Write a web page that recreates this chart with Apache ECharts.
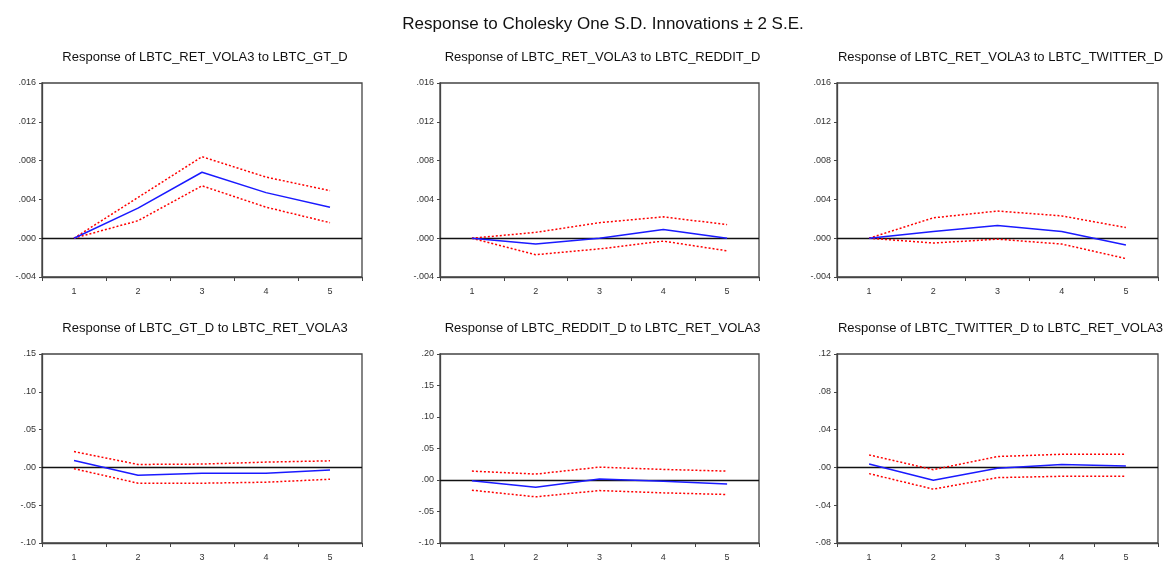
<!DOCTYPE html>
<html><head><meta charset="utf-8">
<script src="https://cdn.jsdelivr.net/npm/echarts@6/dist/echarts.min.js"></script>
<style>html,body{margin:0;padding:0;background:#fff}#c{width:1168px;height:562px}</style>
</head><body><div id="c"></div>
<script>
const categories = ['1','2','3','4','5'];
const mainTitle = 'Response to Cholesky One S.D. Innovations \u00b1 2 S.E.';
const panelTitles = [
  'Response of LBTC_RET_VOLA3 to LBTC_GT_D',
  'Response of LBTC_RET_VOLA3 to LBTC_REDDIT_D',
  'Response of LBTC_RET_VOLA3 to LBTC_TWITTER_D',
  'Response of LBTC_GT_D to LBTC_RET_VOLA3',
  'Response of LBTC_REDDIT_D to LBTC_RET_VOLA3',
  'Response of LBTC_TWITTER_D to LBTC_RET_VOLA3'
];
// responses, upper and lower ±2 S.E. bands
const resp1 = [0.0000, 0.0031, 0.0068, 0.0047, 0.0032];
const upper1 = [0.0000, 0.0042, 0.0084, 0.0063, 0.0049];
const lower1 = [0.0000, 0.0018, 0.0054, 0.0032, 0.0016];
const resp2 = [0.0000, -0.0006, 0.0000, 0.0009, 0.0000];
const upper2 = [0.0000, 0.0006, 0.0016, 0.0022, 0.0014];
const lower2 = [0.0000, -0.0017, -0.0011, -0.0003, -0.0013];
const resp3 = [0.0000, 0.0007, 0.0013, 0.0007, -0.0007];
const upper3 = [0.0000, 0.0021, 0.0028, 0.0023, 0.0011];
const lower3 = [0.0000, -0.0005, -0.0001, -0.0006, -0.0021];
const resp4 = [0.0092, -0.0105, -0.0079, -0.0079, -0.0035];
const upper4 = [0.0209, 0.0039, 0.0044, 0.0070, 0.0087];
const lower4 = [-0.0017, -0.0209, -0.0209, -0.0196, -0.0157];
const resp5 = [-0.0010, -0.0115, 0.0016, -0.0020, -0.0063];
const upper5 = [0.0141, 0.0094, 0.0204, 0.0168, 0.0141];
const lower5 = [-0.0162, -0.0267, -0.0168, -0.0204, -0.0230];
const resp6 = [0.0035, -0.0136, -0.0010, 0.0031, 0.0014];
const upper6 = [0.0132, -0.0024, 0.0115, 0.0139, 0.0139];
const lower6 = [-0.0066, -0.0230, -0.0108, -0.0094, -0.0094];
// y-axis scales: min, max, interval, decimals
const yMin = [-0.004, -0.004, -0.004, -0.10, -0.10, -0.08];
const yMax = [0.016, 0.016, 0.016, 0.15, 0.20, 0.12];
const yInterval = [0.004, 0.004, 0.004, 0.05, 0.05, 0.04];
const yDecimals = [3, 3, 3, 2, 2, 2];

const respData = [resp1, resp2, resp3, resp4, resp5, resp6];
const upperData = [upper1, upper2, upper3, upper4, upper5, upper6];
const lowerData = [lower1, lower2, lower3, lower4, lower5, lower6];

const lefts = [42, 440, 837];
const widths = [320, 319, 321];
const tops = [83, 354];
const H = 194;

const grids = [], xAxes = [], yAxes = [], series = [], titles = [];
titles.push({text: mainTitle, left: 598, top: 11, textAlign: 'center',
  textStyle: {fontFamily: 'Liberation Sans, Arial', fontSize: 17, fontWeight: 'normal', color: '#111'}});
for (let i = 0; i < 6; i++) {
  const r = Math.floor(i / 3), c = i % 3;
  grids.push({left: lefts[c], top: tops[r], width: widths[c], height: H, show: true,
    borderColor: '#444', borderWidth: 1.3, backgroundColor: 'transparent'});
  titles.push({text: panelTitles[i], left: lefts[c] + widths[c] / 2 - 2, top: tops[r] - 37, textAlign: 'center',
    textStyle: {fontFamily: 'Liberation Sans, Arial', fontSize: 13, fontWeight: 'normal', color: '#111'}});
  xAxes.push({type: 'category', gridIndex: i, data: categories, boundaryGap: true,
    axisLine: {show: true, onZero: false, lineStyle: {color: '#444', width: 1.3}},
    axisTick: {show: true, alignWithLabel: false, length: 4, lineStyle: {color: '#444'}},
    axisLabel: {fontFamily: 'Liberation Sans, Arial', fontSize: 9, color: '#333', margin: 10},
    splitLine: {show: false}});
  const d = yDecimals[i];
  yAxes.push({type: 'value', gridIndex: i, min: yMin[i], max: yMax[i], interval: yInterval[i],
    axisLine: {show: true, lineStyle: {color: '#444', width: 1.3}},
    axisTick: {show: true, length: 3, lineStyle: {color: '#444'}},
    axisLabel: {fontFamily: 'Liberation Sans, Arial', fontSize: 9, color: '#333', margin: 6,
      formatter: v => { const s = (Math.abs(v) < 1e-12 ? 0 : v).toFixed(d); return s.replace(/^(-?)0\./, '$1.'); }},
    splitLine: {show: false}});
  series.push({type: 'line', xAxisIndex: i, yAxisIndex: i, data: upperData[i], symbol: 'none', silent: true,
    lineStyle: {color: '#ff0000', width: 1.5, type: [2, 2]}, z: 3});
  series.push({type: 'line', xAxisIndex: i, yAxisIndex: i, data: lowerData[i], symbol: 'none', silent: true,
    lineStyle: {color: '#ff0000', width: 1.5, type: [2, 2]}, z: 3});
  series.push({type: 'line', xAxisIndex: i, yAxisIndex: i, data: respData[i], symbol: 'none', silent: true,
    lineStyle: {color: '#1a1aff', width: 1.5}, z: 4,
    markLine: {silent: true, symbol: 'none', label: {show: false},
      lineStyle: {color: '#111', width: 1.3, type: 'solid'}, data: [{yAxis: 0}], z: 2}});
}
const chart = echarts.init(document.getElementById('c'), null, {renderer: 'canvas'});
chart.setOption({animation: false, backgroundColor: '#fff', title: titles, grid: grids,
  xAxis: xAxes, yAxis: yAxes, series: series});
</script></body></html>
